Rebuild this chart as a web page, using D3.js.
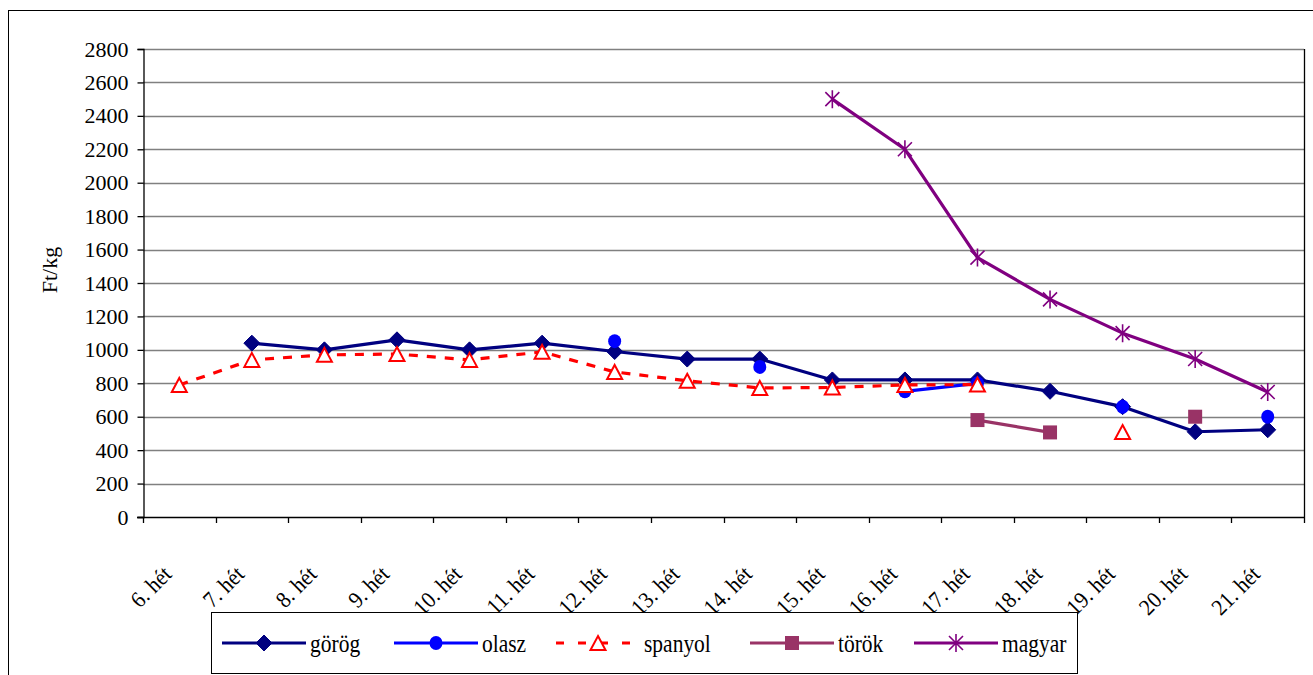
<!DOCTYPE html>
<html>
<head>
<meta charset="utf-8">
<script src="https://cdn.jsdelivr.net/npm/d3@7"></script>
<style>
  html, body { margin: 0; padding: 0; background: #fff; }
  svg { display: block; }
  text { font-family: "Liberation Serif", "Tinos", "Times New Roman", Times, "DejaVu Serif", "Noto Serif", serif; fill: #000; }
</style>
</head>
<body>
<svg id="chart" width="1313" height="675"></svg>
<script>
// ---- data ----
const weeks = ["6. hét","7. hét","8. hét","9. hét","10. hét","11. hét","12. hét","13. hét","14. hét","15. hét","16. hét","17. hét","18. hét","19. hét","20. hét","21. hét"];
const yTicks = [0,200,400,600,800,1000,1200,1400,1600,1800,2000,2200,2400,2600,2800];
const seriesNames = ["görög","olasz","spanyol","török","magyar"];
const gorog   = [null,1040,1000,1060,1000,1040,990,945,945,820,820,820,752,660,510,522];
const olasz   = [null,null,null,null,null,null,1052,null,898,null,752,800,null,660,null,600];
const spanyol = [790,940,970,975,940,988,868,815,772,775,790,792,null,508,null,null];
const torok   = [null,null,null,null,null,null,null,null,null,null,null,580,506,null,600,null];
const magyar  = [null,null,null,null,null,null,null,null,null,2500,2200,1552,1302,1100,945,748];
const yTitle = "Ft/kg";

const seriesValues = [gorog, olasz, spanyol, torok, magyar];
const colors = ["#000080","#0000FF","#FF0000","#993366","#800080"];
const markers = ["diamond","circle","triangle","square","star"];

const svg = d3.select("#chart");

// outer frame
svg.append("rect").attr("x",8.5).attr("y",10.5).attr("width",1330).attr("height",700)
  .attr("fill","none").attr("stroke","#000").attr("stroke-width",1);

const pLeft = 143, pRight = 1304, pTop = 49, pBottom = 517;
const x = d3.scaleBand().domain(weeks).range([pLeft,pRight]);
const cx = w => x(w) + x.bandwidth()/2;
const y = d3.scaleLinear().domain([0,2800]).range([pBottom,pTop]);

// gridlines
svg.append("g").selectAll("line").data(yTicks.filter(t=>t>0)).join("line")
  .attr("x1",pLeft).attr("x2",pRight)
  .attr("y1",d=>Math.round(y(d))+0.5).attr("y2",d=>Math.round(y(d))+0.5)
  .attr("stroke","#808080").attr("stroke-width",1.3);

// right border of plot
svg.append("line").attr("x1",pRight+0.5).attr("x2",pRight+0.5).attr("y1",pTop).attr("y2",pBottom+6)
  .attr("stroke","#000").attr("stroke-width",1.3);

// y axis
const yAxis = d3.axisLeft(y).tickValues(yTicks).tickSize(6).tickPadding(9).tickFormat(d3.format("d"));
const gy = svg.append("g").attr("transform",`translate(${pLeft+0.5},0)`).call(yAxis);
gy.attr("font-family",null);
gy.select(".domain").attr("stroke","#000").attr("stroke-width",1.3);
gy.selectAll(".tick line").attr("stroke","#000").attr("stroke-width",1.3);
gy.selectAll(".tick text").attr("font-size",22).attr("fill","#000");

// x axis line and ticks between categories
svg.append("line").attr("x1",pLeft-6).attr("x2",pRight).attr("y1",pBottom+0.5).attr("y2",pBottom+0.5)
  .attr("stroke","#000").attr("stroke-width",1.3);
svg.append("g").selectAll("line").data(weeks).join("line")
  .attr("x1",d=>Math.round(x(d))+0.5).attr("x2",d=>Math.round(x(d))+0.5)
  .attr("y1",pBottom).attr("y2",pBottom+6).attr("stroke","#000").attr("stroke-width",1.3);

// x labels rotated
svg.append("g").selectAll("text").data(weeks).join("text")
  .attr("transform",d=>`translate(${cx(d)-12},${pBottom+53}) rotate(-45) scale(0.92,1)`)
  .attr("text-anchor","end").attr("dy","0.35em").attr("font-size",23).text(d=>d);

// y title
svg.append("text").attr("transform",`translate(57,270) rotate(-90)`)
  .attr("text-anchor","middle").attr("font-size",22).text(yTitle);

// marker drawing
function drawMarker(g, type, color){
  if(type==="diamond"){
    g.append("path").attr("d","M0,-8L8,0L0,8L-8,0Z").attr("fill",color).attr("stroke",color).attr("stroke-width",1);
  } else if(type==="circle"){
    g.append("ellipse").attr("rx",6.5).attr("ry",7).attr("fill",color);
  } else if(type==="triangle"){
    g.append("path").attr("d","M0,-7L7.5,7L-7.5,7Z").attr("fill","#fff").attr("stroke",color).attr("stroke-width",2);
  } else if(type==="square"){
    g.append("rect").attr("x",-7).attr("y",-7).attr("width",14).attr("height",14).attr("fill",color);
  } else if(type==="star"){
    g.append("path").attr("d","M-7,-7L7,7M-7,7L7,-7M0,-9L0,9").attr("stroke",color).attr("stroke-width",1.6).attr("fill","none");
  }
}

// series
const line = d3.line().defined(d=>d.v!=null).x(d=>cx(d.w)).y(d=>y(d.v));
seriesValues.forEach((vals,i)=>{
  const pts = weeks.map((w,j)=>({w, v: vals[j]}));
  svg.append("path").datum(pts).attr("d",line).attr("fill","none")
    .attr("stroke",colors[i]).attr("stroke-width",3.2)
    .attr("stroke-linejoin","round")
    .attr("stroke-dasharray", i===2 ? "9,9" : null);
  pts.filter(p=>p.v!=null).forEach(p=>{
    const g = svg.append("g").attr("transform",`translate(${cx(p.w)},${y(p.v)})`);
    drawMarker(g, markers[i], colors[i]);
  });
});

// legend
const lg = svg.append("g");
lg.append("rect").attr("x",211.5).attr("y",612.5).attr("width",866).attr("height",61)
  .attr("fill","#fff").attr("stroke","#000").attr("stroke-width",1);
const legendX = [222, 394, 556, 750, 914];
const ly = 643;
seriesNames.forEach((n,i)=>{
  const x0 = legendX[i];
  lg.append("line").attr("x1",x0).attr("x2",x0+84).attr("y1",ly).attr("y2",ly)
    .attr("stroke",colors[i]).attr("stroke-width",3.2)
    .attr("stroke-dasharray", i===2 ? "8,14" : null);
  const g = lg.append("g").attr("transform",`translate(${x0+42},${ly})`);
  drawMarker(g, markers[i], colors[i]);
  lg.append("text").attr("transform",`translate(${x0+88},${ly}) scale(0.86,1)`)
    .attr("dy","0.35em").attr("font-size",25).text(n);
});
</script>
</body>
</html>
